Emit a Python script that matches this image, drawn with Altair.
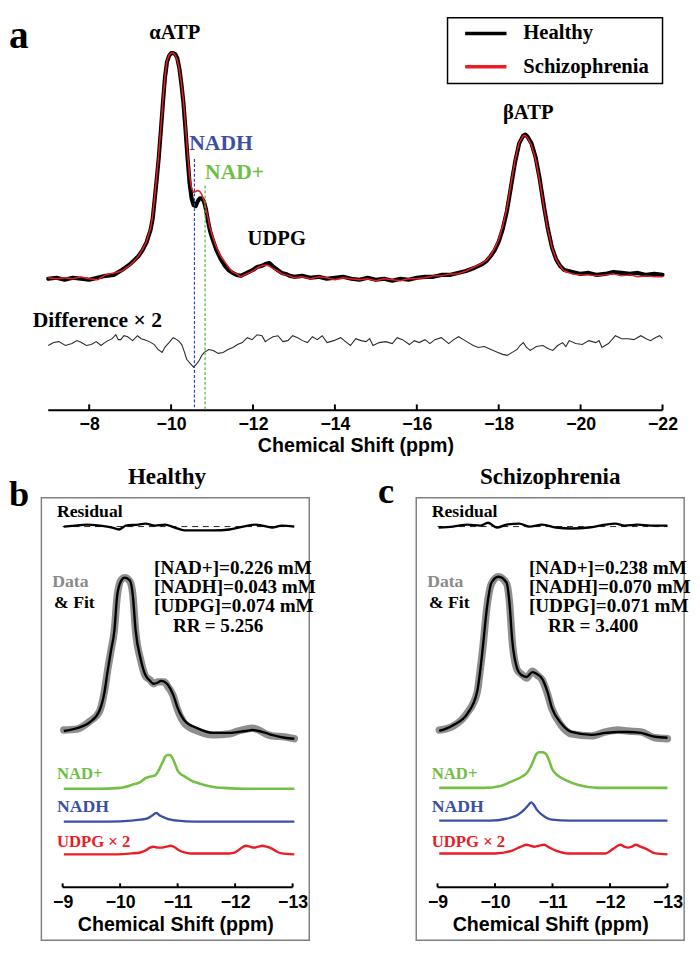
import altair as alt
import pandas as pd

SERIF = "Liberation Serif"
SANS = "Liberation Sans"
BLUE = "#3b4fa3"
GREEN = "#6fbe44"
RED = "#ec1c24"

# ---------------- panel a : spectra (intensity in arbitrary units) ----------------
ppm_a = [
    -7.0, -7.2, -7.4, -7.6, -7.8, -8.0, -8.2, -8.4, -8.6, -8.8,
    -9.0, -9.1, -9.2, -9.3, -9.4, -9.5, -9.55, -9.6, -9.65, -9.7,
    -9.75, -9.8, -9.85, -9.9, -9.95, -10.0, -10.05, -10.1, -10.15, -10.2,
    -10.25, -10.3, -10.35, -10.4, -10.45, -10.5, -10.55, -10.6, -10.65, -10.7,
    -10.75, -10.8, -10.85, -10.9, -10.95, -11.0, -11.1, -11.2, -11.3, -11.4,
    -11.5, -11.6, -11.7, -11.8, -11.9, -12.0, -12.1, -12.2, -12.3, -12.4,
    -12.5, -12.6, -12.7, -12.8, -12.9, -13.0, -13.2, -13.4, -13.6, -13.8,
    -14.0, -14.2, -14.4, -14.6, -14.8, -15.0, -15.2, -15.4, -15.6, -15.8,
    -16.0, -16.2, -16.4, -16.6, -16.8, -17.0, -17.2, -17.4, -17.6, -17.7,
    -17.8, -17.9, -18.0, -18.1, -18.2, -18.3, -18.4, -18.5, -18.6, -18.65,
    -18.7, -18.8, -18.9, -19.0, -19.1, -19.2, -19.3, -19.4, -19.5, -19.6,
    -19.8, -20.0, -20.2, -20.4, -20.6, -20.8, -21.0, -21.2, -21.4, -21.6,
    -21.8, -22.0]
healthy_a = [
    134, 135, 133, 135, 134, 133, 135, 137, 138, 143,
    149, 153, 157, 163, 171, 184, 195, 215, 236, 258,
    285, 313, 339, 355, 361, 364, 364, 363, 359, 349,
    333, 314, 287, 258, 232, 216, 209, 208, 213, 216,
    216, 213, 205, 193, 183, 176, 164, 155, 148, 143,
    140, 138, 137, 139, 141, 143, 146, 147, 149, 150,
    146, 143, 140, 139, 137, 136, 137, 135, 136, 134,
    135, 136, 134, 133, 135, 133, 134, 132, 134, 133,
    135, 136, 136, 138, 138, 140, 142, 145, 149, 152,
    157, 163, 172, 185, 203, 228, 253, 272, 280, 281,
    279, 272, 258, 236, 209, 185, 166, 154, 147, 143,
    141, 139, 140, 138, 139, 141, 140, 139, 140, 138,
    139, 138]
schizo_a = [
    135, 134, 135, 134, 136, 134, 133, 138, 140, 142,
    148, 152, 157, 164, 172, 186, 198, 218, 240, 262,
    288, 315, 340, 356, 362, 364, 364, 362, 357, 348,
    333, 316, 291, 264, 240, 226, 222, 223, 224, 223,
    220, 214, 206, 196, 186, 179, 167, 158, 152, 146,
    141, 139, 136, 138, 140, 142, 145, 147, 148, 147,
    144, 142, 139, 138, 137, 135, 136, 134, 136, 135,
    133, 135, 134, 133, 134, 132, 134, 133, 132, 134,
    134, 135, 137, 137, 139, 139, 142, 146, 150, 153,
    158, 165, 174, 188, 206, 231, 255, 273, 280, 280,
    278, 270, 256, 234, 208, 184, 166, 154, 147, 142,
    139, 138, 138, 137, 138, 139, 137, 138, 136, 137,
    136, 136]
diff_ppm = [
    -7.00, -7.13, -7.26, -7.42, -7.58, -7.70, -7.81, -7.93, -8.05, -8.17,
    -8.29, -8.38, -8.46, -8.56, -8.65, -8.71, -8.77, -8.85, -8.94, -9.06,
    -9.18, -9.27, -9.35, -9.47, -9.59, -9.68, -9.78, -9.86, -9.95, -10.05,
    -10.14, -10.20, -10.26, -10.32, -10.38, -10.46, -10.55, -10.62, -10.69, -10.75,
    -10.81, -10.92, -11.03, -11.15, -11.27, -11.39, -11.51, -11.62, -11.74, -11.86,
    -11.98, -12.10, -12.22, -12.30, -12.37, -12.49, -12.61, -12.73, -12.85, -12.97,
    -13.09, -13.21, -13.33, -13.45, -13.57, -13.69, -13.81, -13.97, -14.14, -14.26,
    -14.38, -14.51, -14.64, -14.76, -14.85, -14.93, -15.08, -15.24, -15.40, -15.52,
    -15.65, -15.82, -15.94, -16.06, -16.20, -16.32, -16.44, -16.60, -16.78, -16.90,
    -17.02, -17.14, -17.26, -17.38, -17.50, -17.65, -17.81, -17.98, -18.10, -18.21,
    -18.33, -18.45, -18.52, -18.60, -18.68, -18.77, -18.92, -19.08, -19.20, -19.32,
    -19.44, -19.56, -19.64, -19.72, -19.88, -20.04, -20.20, -20.37, -20.45, -20.52,
    -20.68, -20.85, -21.00, -21.16, -21.30, -21.47, -21.60, -21.71, -21.82, -21.93,
    -22.00]
diff_val = [
    66, 69, 70, 66, 68, 71, 69, 66, 67, 70,
    66, 69, 71, 73, 77, 72, 72, 76, 75, 71,
    76, 73, 72, 70, 67, 62, 59, 65, 69, 74,
    72, 70, 67, 60, 52, 48, 44, 47, 51, 56,
    59, 62, 61, 58, 59, 62, 64, 67, 69, 74,
    72, 77, 76, 70, 72, 75, 76, 70, 71, 76,
    74, 71, 69, 75, 72, 76, 69, 71, 74, 70,
    66, 73, 71, 70, 73, 66, 69, 70, 68, 74,
    72, 67, 71, 69, 72, 68, 72, 74, 68, 72,
    75, 72, 69, 66, 64, 65, 62, 59, 57, 56,
    59, 62, 66, 69, 64, 61, 65, 66, 63, 61,
    66, 69, 65, 71, 68, 67, 71, 69, 71, 64,
    68, 76, 73, 73, 72, 76, 73, 71, 74, 76,
    73]
ticks_a = [-8, -10, -12, -14, -16, -18, -20, -22]
axis_span_a = [-7, -22]
series_names = ["Healthy", "Schizophrenia"]
series_colors = ["#000000", RED]
marker_ppm = {"NADH": -10.57, "NAD+": -10.83}
marker_top = {"NADH": 256, "NAD+": 229}

# legend box of panel a, in the panel's own data units
legend_box = {"ppm": -16.75, "ppm2": -22.0, "I": 400, "I2": 333}
legend_rows = {"I": [384, 350], "ppm": -17.18, "ppm2": -18.19, "label_ppm": -18.60}

# ---------------- panels b / c : fitted components ----------------
fit_ppm_h = [-9.02, -9.25, -9.47, -9.64, -9.73, -9.78, -9.84, -9.90, -9.95, -10.02,
             -10.08, -10.17, -10.22, -10.27, -10.36, -10.44, -10.52, -10.58, -10.65, -10.71,
             -10.77, -10.83, -10.92, -11.00, -11.12, -11.34, -11.63, -11.90, -12.05, -12.19,
             -12.30, -12.41, -12.53, -12.64, -12.86, -13.03]
fit_h = [217, 220, 226, 238, 258, 278, 300, 321, 358, 373,
         376, 373, 358, 321, 291, 275, 269, 266, 267, 269,
         268, 265, 255, 241, 228, 220, 215, 215, 216, 217,
         218, 217, 215, 213, 210, 209]
data_h = [218, 219, 227, 237, 259, 279, 300, 322, 357, 374,
          376, 372, 359, 320, 290, 274, 270, 266, 268, 268,
          268, 263, 254, 239, 225, 217, 213, 214, 217, 219,
          220, 218, 214, 212, 211, 209]
nadp_ppm_h = [-9.02, -9.6, -10.0, -10.20, -10.35, -10.44, -10.55, -10.61, -10.66, -10.71,
              -10.75, -10.78, -10.82, -10.86, -10.89, -10.92, -10.96, -11.00, -11.06, -11.12,
              -11.22, -11.35, -11.46, -11.62, -11.80, -12.2, -13.03]
nadp_h = [157, 157, 158, 161, 164, 168, 170, 171, 175, 181,
          186, 190, 192, 192, 191, 188, 182, 176, 172, 170,
          166, 163, 161, 159, 158, 157, 157]
nadh_ppm_h = [-9.02, -9.8, -10.20, -10.35, -10.46, -10.55, -10.63, -10.70, -10.78, -10.88,
              -11.00, -11.3, -13.03]
nadh_h = [123, 123, 124, 125, 126, 129, 132, 129, 127, 125, 124, 123, 123]
udpg_ppm_h = [-9.02, -9.9, -10.20, -10.35, -10.44, -10.52, -10.58, -10.65, -10.71, -10.80,
              -10.88, -10.96, -11.03, -11.12, -11.22, -11.90, -12.00, -12.07, -12.14, -12.19,
              -12.26, -12.32, -12.40, -12.47, -12.55, -12.64, -12.72, -12.81, -13.03]
udpg_h = [89, 89, 90, 91, 93, 96, 97, 96, 96, 97,
          98, 96, 93, 91, 90, 90, 91, 94, 97, 98,
          97, 96, 97, 98, 97, 95, 92, 90, 89]
res_ppm_h = [-9.02, -9.22, -9.42, -9.64, -9.86, -9.98, -10.10, -10.32, -10.44, -10.61,
             -10.78, -10.95, -11.12, -11.34, -11.63, -11.90, -12.14, -12.36, -12.47, -12.64,
             -12.81, -13.03]
res_h = [429, 430, 431, 430, 428, 426, 430, 431, 432, 430,
         431, 428, 425, 425, 425, 426, 429, 431, 430, 428,
         430, 429]

fit_ppm_s = [-9.03, -9.27, -9.52, -9.69, -9.74, -9.79, -9.86, -9.94, -10.06, -10.20,
             -10.25, -10.30, -10.39, -10.46, -10.55, -10.65, -10.73, -10.82, -10.91, -10.99,
             -11.15, -11.33, -11.68, -11.92, -12.14, -12.31, -12.54, -12.78, -13.0]
fit_s = [217, 223, 235, 258, 278, 305, 345, 371, 377, 371,
         351, 311, 281, 275, 273, 278, 276, 271, 258, 241,
         225, 216, 213, 215, 216, 216, 215, 211, 210]
data_s = [218, 222, 236, 257, 279, 304, 346, 370, 377, 370,
          352, 310, 280, 276, 272, 279, 275, 270, 256, 240,
          223, 214, 212, 216, 218, 217, 216, 210, 209]
nadp_ppm_s = [-9.03, -9.8, -10.10, -10.30, -10.48, -10.56, -10.63, -10.68, -10.72, -10.77,
              -10.82, -10.87, -10.91, -10.95, -10.99, -11.05, -11.11, -11.23, -11.45, -11.80,
              -12.2, -13.0]
nadp_s = [158, 158, 160, 165, 170, 174, 181, 188, 193, 195,
          195, 194, 191, 185, 178, 173, 170, 166, 161, 158,
          158, 158]
nadh_ppm_s = [-9.03, -9.9, -10.20, -10.42, -10.50, -10.58, -10.63, -10.68, -10.72, -10.82,
              -10.99, -11.3, -13.0]
nadh_s = [124, 124, 126, 131, 135, 140, 143, 140, 136, 130, 125, 124, 124]
udpg_ppm_s = [-9.03, -10.0, -10.30, -10.45, -10.55, -10.62, -10.68, -10.76, -10.85, -10.95,
              -11.06, -11.28, -11.92, -12.06, -12.18, -12.25, -12.31, -12.38, -12.45, -12.53,
              -12.62, -12.79, -13.0]
udpg_s = [90, 90, 93, 97, 99, 98, 97, 98, 99, 96,
          93, 90, 90, 95, 99, 97, 96, 97, 99, 97,
          95, 90, 89]
res_ppm_s = [-9.02, -9.27, -9.52, -9.74, -9.88, -10.03, -10.20, -10.42, -10.60, -10.82,
             -11.06, -11.33, -11.63, -11.92, -12.09, -12.26, -12.48, -12.71, -13.0]
res_s = [428, 429, 431, 430, 433, 428, 431, 432, 429, 431,
         428, 427, 428, 431, 432, 430, 431, 430, 430]

conc_labels_h = ["[NAD+]=0.226 mM", "[NADH]=0.043 mM", "[UDPG]=0.074 mM"]
conc_labels_s = ["[NAD+]=0.238 mM", "[NADH]=0.070 mM", "[UDPG]=0.071 mM"]
rr_h = "= 5.256"
rr_s = "= 3.400"
ticks_bc = [-9, -10, -11, -12, -13]
residual_zero = 429

# ================= scales / axes =================
XA = alt.Scale(domain=[-22.528, -6.0175], reverse=True, nice=False, zero=False)
YA = alt.Scale(domain=[0, 401], nice=False, zero=False)
AXIS_A = alt.Axis(values=ticks_a, domain=False, ticks=False, grid=False,
                  labelFont=SANS, labelFontSize=18, labelFontWeight="bold", labelColor="black",
                  labelPadding=6, labelFlush=False, labelOverlap=False,
                  title="Chemical Shift (ppm)", titleFont=SANS, titleFontSize=20,
                  titleFontWeight="bold", titleColor="black", titlePadding=2, titleX=354)
CSCALE = alt.Scale(domain=series_names, range=series_colors)


def xa(field="ppm"):
    return alt.X(f"{field}:Q", scale=XA, axis=AXIS_A)


def ya(field="I"):
    return alt.Y(f"{field}:Q", scale=YA, axis=None)


df_spec = pd.DataFrame({
    "ppm": ppm_a + ppm_a,
    "I": healthy_a + schizo_a,
    "series": [series_names[0]] * len(ppm_a) + [series_names[1]] * len(ppm_a),
})
df_diff = pd.DataFrame({"ppm": diff_ppm, "I": diff_val})
df_axis_a = pd.DataFrame({"ppm": [axis_span_a[0]], "ppm2": [axis_span_a[1]], "I": [0]})
df_ticks_a = pd.DataFrame({"ppm": ticks_a, "I": [0] * len(ticks_a), "I2": [6] * len(ticks_a)})


def marker_df(name):
    return pd.DataFrame({"ppm": [marker_ppm[name]], "I": [marker_top[name]], "I2": [0]})


def text_layer(df, xenc, yenc, **kw):
    return alt.Chart(df).mark_text(**kw).encode(x=xenc, y=yenc, text="label:N")


healthy_line = alt.Chart(df_spec).transform_filter(alt.datum.series == series_names[0]).mark_line(
    strokeWidth=4.2, strokeJoin="round", strokeCap="round").encode(
    x=xa(), y=ya(), color=alt.Color("series:N", scale=CSCALE, legend=None))
schizo_line = alt.Chart(df_spec).transform_filter(alt.datum.series == series_names[1]).mark_line(
    strokeWidth=1.5, strokeJoin="round").encode(
    x=xa(), y=ya(), color=alt.Color("series:N", scale=CSCALE, legend=None))
diff_line = alt.Chart(df_diff).mark_line(color="#2a2a2a", strokeWidth=1.1).encode(x=xa(), y=ya())
axis_rule_a = alt.Chart(df_axis_a).mark_rule(color="black", strokeWidth=2).encode(
    x=xa(), x2=alt.X2("ppm2:Q"), y=ya())
tick_rule_a = alt.Chart(df_ticks_a).mark_rule(color="black", strokeWidth=2).encode(
    x=xa(), y=ya(), y2=alt.Y2("I2:Q"))
nadh_rule = alt.Chart(marker_df("NADH")).mark_rule(color="#2d45b8", strokeWidth=1.2, strokeDash=[3, 2]).encode(
    x=xa(), y=ya(), y2=alt.Y2("I2:Q"))
nadp_rule = alt.Chart(marker_df("NAD+")).mark_rule(color="#4fb33d", strokeWidth=1.2, strokeDash=[3, 2]).encode(
    x=xa(), y=ya(), y2=alt.Y2("I2:Q"))

# legend (box, sample lines, labels)
leg_frame = alt.Chart(pd.DataFrame([legend_box])).mark_rect(
    fill="white", stroke="black", strokeWidth=1.5).encode(
    x=xa(), x2=alt.X2("ppm2:Q"), y=ya(), y2=alt.Y2("I2:Q"))
df_leg = pd.DataFrame({"series": series_names, "I": legend_rows["I"],
                       "ppm": [legend_rows["ppm"]] * 2, "ppm2": [legend_rows["ppm2"]] * 2,
                       "lp": [legend_rows["label_ppm"]] * 2})
leg_lines = alt.Chart(df_leg).mark_rule(strokeWidth=3.5).encode(
    x=xa(), x2=alt.X2("ppm2:Q"), y=ya(), color=alt.Color("series:N", scale=CSCALE, legend=None))
leg_text = alt.Chart(df_leg).mark_text(font=SERIF, fontSize=21, fontWeight="bold", color="black",
                                       align="left", baseline="middle").encode(
    x=xa("lp"), y=ya(), text="series:N")

peak_lbl = pd.DataFrame({"label": ["\u03b1ATP", "UDPG", "\u03b2ATP"], "ppm": [-10.09, -12.58, -18.72],
                         "I": [384, 174, 303]})
t_peaks = text_layer(peak_lbl, xa(), ya(), font=SERIF, fontSize=21, fontWeight="bold", color="black",
                     align="center", baseline="middle")
t_nadh = text_layer(pd.DataFrame({"label": ["NADH"], "ppm": [-11.22], "I": [272]}), xa(), ya(),
                    font=SERIF, fontSize=22, fontWeight="bold", color=BLUE, align="center", baseline="middle")
t_nadp = text_layer(pd.DataFrame({"label": ["NAD+"], "ppm": [-11.55], "I": [243]}), xa(), ya(),
                    font=SERIF, fontSize=22, fontWeight="bold", color=GREEN, align="center", baseline="middle")
t_diff = text_layer(pd.DataFrame({"label": ["Difference \u00d7 2"], "ppm": [-6.62], "I": [92]}), xa(), ya(),
                    font=SERIF, fontSize=22, fontWeight="bold", color="black", align="left", baseline="middle")
t_a = text_layer(pd.DataFrame({"label": ["a"], "ppm": [-6.04], "I": [369]}), xa(), ya(),
                 font=SERIF, fontSize=40, fontWeight="bold", color="black", align="left", baseline="alphabetic")

panel_a = alt.layer(healthy_line, schizo_line, diff_line, axis_rule_a, tick_rule_a, nadh_rule, nadp_rule,
                    leg_frame, leg_lines, leg_text,
                    t_peaks, t_nadh, t_nadp, t_diff, t_a).properties(width=689, height=401)

# ================= panels b / c =================
H_BC = 451
XB = alt.Scale(domain=[-13.29, -8.63], reverse=True, nice=False, zero=False)
YB = alt.Scale(domain=[0, 459], nice=False, zero=False)
AXIS_B = alt.Axis(values=ticks_bc, domain=False, ticks=False, grid=False, offset=-54,
                  labelFont=SANS, labelFontSize=18, labelFontWeight="bold", labelColor="black",
                  labelPadding=7, labelFlush=False, labelOverlap=False,
                  title="Chemical Shift (ppm)", titleFont=SANS, titleFontSize=20,
                  titleFontWeight="bold", titleColor="black", titlePadding=3)


def xb(field="ppm"):
    return alt.X(f"{field}:Q", scale=XB, axis=AXIS_B)


def yb(field="I"):
    return alt.Y(f"{field}:Q", scale=YB, axis=None)


def line_b(ppm, vals, **kw):
    return alt.Chart(pd.DataFrame({"ppm": ppm, "I": vals})).mark_line(**kw).encode(x=xb(), y=yb())


def panel(title, title_ppm, letter, letter_ppm, letter_I, fit_ppm, fit, data, nadp_ppm, nadp, nadh_ppm, nadh,
          udpg_ppm, udpg, res_ppm, res, conc, rr):
    zero = alt.Chart(pd.DataFrame({"ppm": [ticks_bc[0]], "ppm2": [ticks_bc[-1]], "I": [residual_zero]})).mark_rule(
        color="#222222", strokeWidth=1, strokeDash=[6, 5]).encode(x=xb(), x2=alt.X2("ppm2:Q"), y=yb())
    res_l = line_b(res_ppm, res, color="black", strokeWidth=2.4, interpolate="monotone")
    data_l = line_b(fit_ppm, data, color="#8e8e8e", strokeWidth=7.5, interpolate="monotone", strokeCap="round")
    fit_l = line_b(fit_ppm, fit, color="black", strokeWidth=2.4, interpolate="monotone")
    nadp_l = line_b(nadp_ppm, nadp, color="#74c044", strokeWidth=2.6, interpolate="monotone")
    nadh_l = line_b(nadh_ppm, nadh, color="#3a50a6", strokeWidth=2.4, interpolate="monotone")
    udpg_l = line_b(udpg_ppm, udpg, color=RED, strokeWidth=2.4, interpolate="monotone")
    axis_r = alt.Chart(pd.DataFrame({"ppm": [ticks_bc[0]], "ppm2": [ticks_bc[-1]], "I": [55]})).mark_rule(
        color="black", strokeWidth=2).encode(x=xb(), x2=alt.X2("ppm2:Q"), y=yb())
    tick_r = alt.Chart(pd.DataFrame({"ppm": ticks_bc, "I": [55] * 5, "I2": [59] * 5})).mark_rule(
        color="black", strokeWidth=2).encode(x=xb(), y=yb(), y2=alt.Y2("I2:Q"))
    common = dict(font=SERIF, fontWeight="bold", align="left", baseline="middle")
    t_title = text_layer(pd.DataFrame({"label": [title], "ppm": [title_ppm], "I": [480]}), xb(), yb(),
                         font=SERIF, fontWeight="bold", fontSize=23.5, color="black", align="center",
                         baseline="middle")
    t_res = text_layer(pd.DataFrame({"label": ["Residual"], "ppm": [-8.90], "I": [444]}), xb(), yb(),
                       fontSize=18, color="black", **common)
    t_data = text_layer(pd.DataFrame({"label": ["Data"], "ppm": [-8.82], "I": [371]}), xb(), yb(),
                        fontSize=18, color="#8a8a8a", **common)
    t_fit = text_layer(pd.DataFrame({"label": ["& Fit"], "ppm": [-8.85], "I": [350]}), xb(), yb(),
                       fontSize=18, color="black", **common)
    t_conc = text_layer(pd.DataFrame({"label": conc, "ppm": [-10.59] * 3, "I": [386, 366, 346]}), xb(), yb(),
                        fontSize=19.5, color="black", **common)
    t_rr = text_layer(pd.DataFrame({"label": ["RR", rr], "ppm": [-10.92, -11.47], "I": [326, 326]}), xb(), yb(),
                      fontSize=19.5, color="black", **common)
    t_c1 = text_layer(pd.DataFrame({"label": ["NAD+"], "ppm": [-8.90], "I": [172]}), xb(), yb(),
                      fontSize=17, color=GREEN, **common)
    t_c2 = text_layer(pd.DataFrame({"label": ["NADH"], "ppm": [-8.90], "I": [138]}), xb(), yb(),
                      fontSize=18, color=BLUE, **common)
    t_c3 = text_layer(pd.DataFrame({"label": ["UDPG \u00d7 2"], "ppm": [-8.90], "I": [102]}), xb(), yb(),
                      fontSize=17, color=RED, **common)
    t_letter = text_layer(pd.DataFrame({"label": [letter], "ppm": [letter_ppm], "I": [letter_I]}), xb(), yb(),
                          font=SERIF, fontSize=37, fontWeight="bold", color="black", align="left",
                          baseline="alphabetic")
    return alt.layer(zero, res_l, data_l, fit_l, nadp_l, nadh_l, udpg_l, axis_r, tick_r, t_title,
                     t_res, t_data, t_fit, t_conc, t_rr, t_c1, t_c2, t_c3, t_letter).properties(
        width=273, height=H_BC,
        view=alt.ViewBackground(stroke="#808080", strokeWidth=1.5))


panel_b = panel("Healthy", -10.815, "b", -8.068, 450, fit_ppm_h, fit_h, data_h, nadp_ppm_h, nadp_h,
                nadh_ppm_h, nadh_h, udpg_ppm_h, udpg_h, res_ppm_h, res_h, conc_labels_h, rr_h)
panel_c = panel("Schizophrenia", -10.96, "c", -7.966, 453, fit_ppm_s, fit_s, data_s, nadp_ppm_s, nadp_s,
                nadh_ppm_s, nadh_s, udpg_ppm_s, udpg_s, res_ppm_s, res_s, conc_labels_s, rr_s)


def spacer(w):
    return alt.Chart(pd.DataFrame({"s": [0]})).mark_point(opacity=0, size=0, strokeWidth=0).encode(
        x=alt.value(w / 2), y=alt.value(H_BC / 2)).properties(width=w, height=H_BC)


row = alt.hconcat(spacer(34), panel_b, spacer(109), panel_c, spacing=0, bounds="flush")
chart = alt.vconcat(panel_a, row, spacing=89, bounds="flush").properties(
    padding={"left": 0, "top": 0, "right": 0, "bottom": 0}).configure_view(stroke=None)

chart.save("out.html", embed_options={"renderer": "svg", "actions": False})
